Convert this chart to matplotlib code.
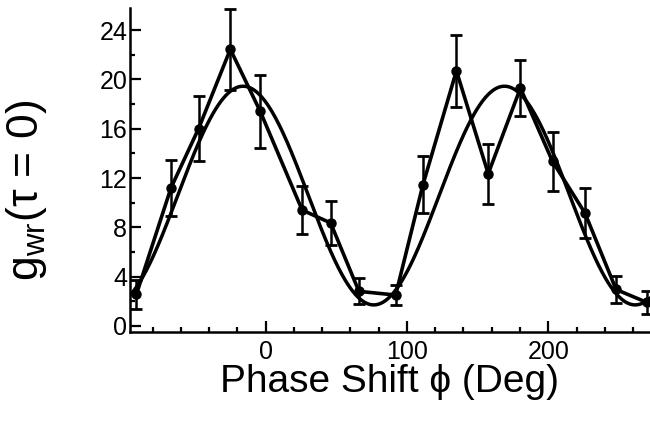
import numpy as np
import matplotlib
matplotlib.use("Agg")
import matplotlib.pyplot as plt
from matplotlib.ticker import MultipleLocator

plt.rcParams['font.family'] = ['Liberation Sans', 'DejaVu Sans']
plt.rcParams['mathtext.fontset'] = 'custom'
plt.rcParams['mathtext.rm'] = 'Liberation Sans'
plt.rcParams['mathtext.it'] = 'Liberation Sans:italic'

# measured data
phase = [-91.5, -67.0, -47.5, -25.0, -3.8, 25.8, 46.0, 66.0, 92.0, 111.3,
         135.0, 157.5, 180.3, 203.0, 226.0, 248.0, 269.8]
g_wr = [2.55, 11.2, 16.0, 22.45, 17.4, 9.4, 8.35, 2.8, 2.5, 11.45,
        20.7, 12.35, 19.3, 13.35, 9.15, 2.95, 1.9]
g_err = [1.2, 2.3, 2.65, 3.3, 3.0, 1.95, 1.8, 1.05, 0.8, 2.3,
         2.9, 2.45, 2.3, 2.4, 2.0, 1.07, 0.95]

# sinusoidal fit parameters
fit_offset = 10.575
fit_amplitude = 8.875
fit_period = 185.0
fit_peak = -16.0

xticks_major = [0, 100, 200]
yticks_major = [0, 4, 8, 12, 16, 20, 24]

fig = plt.figure(figsize=(6.5, 4.21), dpi=100)
ax = fig.add_axes([0.2, 0.2114, 0.8, 0.7696])

xmin, xmax = -96, 272
xf = np.linspace(xmin, xmax, 600)
yf = fit_offset + fit_amplitude * np.cos(2 * np.pi * (xf - fit_peak) / fit_period)
ax.plot(xf, yf, color='black', lw=2.5, solid_capstyle='round')

ax.plot(phase, g_wr, color='black', lw=2.6, solid_joinstyle='miter')
ax.errorbar(phase, g_wr, yerr=g_err, fmt='o', color='black', ms=6.5,
            elinewidth=1.8, capsize=4.3, capthick=2.0)

ax.set_xlim(xmin, xmax)
ax.set_ylim(-0.5, 25.8)

for s in ['top', 'right']:
    ax.spines[s].set_visible(False)
for s in ['left', 'bottom']:
    ax.spines[s].set_linewidth(1.8)

ax.set_xticks(xticks_major)
ax.set_yticks(yticks_major)
ax.xaxis.set_minor_locator(MultipleLocator(20))
ax.yaxis.set_minor_locator(MultipleLocator(2))
ax.tick_params(which='both', direction='in', width=1.6, labelsize=18)
ax.tick_params(which='major', length=8)
ax.tick_params(which='minor', length=3.8)
ax.tick_params(axis='x', which='major', pad=6)
ax.tick_params(axis='y', which='major', pad=2)

ax.set_xlabel('Phase Shift \u03d5 (Deg)', fontsize=28, labelpad=0)
fig.text(27 / 650, 1 - 190 / 421, 'g$_{\\mathrm{wr}}$(\u03c4 = 0)', fontsize=32,
         rotation=90, ha='center', va='center')

fig.savefig('out.png', dpi=100)
